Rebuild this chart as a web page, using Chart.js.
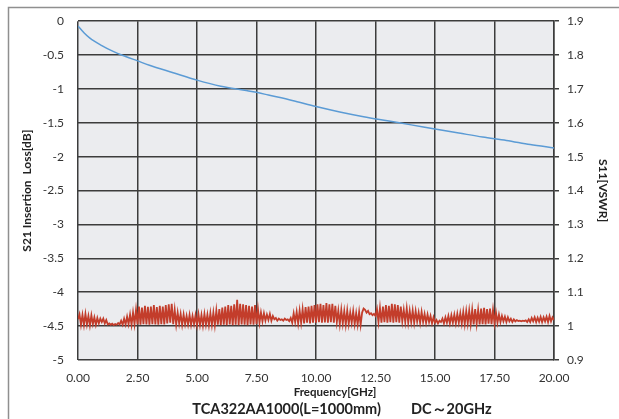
<!DOCTYPE html>
<html>
<head>
<meta charset="utf-8">
<script src="https://cdn.jsdelivr.net/npm/chart.js@4"></script>
<style>
  body { margin: 0; background: #fff; }
</style>
</head>
<body>
<canvas id="myChart" width="619" height="419"></canvas>
<script>
// S21 insertion loss [dB]
const lossFreq = [0, 0.25, 0.5, 1, 1.5, 2, 2.5, 3, 4, 5, 6, 7, 7.5, 8, 9, 10, 11, 12, 13, 14, 15, 16, 17, 18, 19, 20];
const lossDb = [-0.07, -0.17, -0.25, -0.36, -0.45, -0.52, -0.585, -0.65, -0.76, -0.87, -0.96, -1.02, -1.05, -1.09, -1.17, -1.26, -1.34, -1.41, -1.47, -1.53, -1.59, -1.65, -1.71, -1.76, -1.82, -1.87];

// S11 VSWR, one row per GHz, 16 samples per GHz (0.0625 GHz apart)
const vswrStep = 0.0625;
const vswr = [
  1.020, 1.035, 1.004, 1.033, 1.003, 1.036, 1.005, 1.030, 1.002, 1.032, 1.006, 1.026, 1.004, 1.024, 1.008, 1.022,
  1.012, 1.022, 1.008, 1.018, 1.005, 1.008, 1.004, 1.007, 1.003, 1.006, 1.004, 1.009, 1.005, 1.016, 1.004, 1.022,
  1.005, 1.028, 1.006, 1.034, 1.004, 1.040, 1.006, 1.048, 1.005, 1.058, 1.004, 1.055, 1.006, 1.060, 1.005, 1.057,
  1.004, 1.058, 1.006, 1.062, 1.005, 1.056, 1.004, 1.060, 1.006, 1.058, 1.005, 1.062, 1.008, 1.064, 1.010, 1.066,
  1.006, 1.048, 1.005, 1.040, 1.008, 1.036, 1.004, 1.034, 1.006, 1.030, 1.005, 1.033, 1.004, 1.030, 1.006, 1.032,
  1.003, 1.035, 1.004, 1.033, 1.002, 1.036, 1.005, 1.034, 1.003, 1.038, 1.004, 1.040, 1.003, 1.046, 1.004, 1.050,
  1.003, 1.055, 1.004, 1.058, 1.003, 1.062, 1.005, 1.060, 1.003, 1.064, 1.004, 1.078, 1.003, 1.066, 1.005, 1.064,
  1.004, 1.062, 1.003, 1.060, 1.005, 1.058, 1.004, 1.062, 1.006, 1.050, 1.010, 1.040, 1.014, 1.038, 1.016, 1.034,
  1.018, 1.036, 1.016, 1.030, 1.020, 1.024, 1.016, 1.022, 1.018, 1.020, 1.016, 1.022, 1.018, 1.020, 1.015, 1.024,
  1.010, 1.038, 1.012, 1.042, 1.008, 1.046, 1.010, 1.050, 1.008, 1.056, 1.010, 1.058, 1.008, 1.060, 1.010, 1.062,
  1.010, 1.064, 1.012, 1.066, 1.010, 1.062, 1.011, 1.068, 1.010, 1.064, 1.012, 1.066, 1.010, 1.060, 1.012, 1.046,
  1.006, 1.048, 1.008, 1.044, 1.005, 1.046, 1.007, 1.040, 1.010, 1.044, 1.006, 1.038, 1.005, 1.042, 1.004, 1.040,
  1.052, 1.048, 1.040, 1.045, 1.035, 1.038, 1.032, 1.036, 1.030, 1.050, 1.012, 1.054, 1.010, 1.058, 1.012, 1.062,
  1.010, 1.060, 1.012, 1.066, 1.010, 1.064, 1.012, 1.062, 1.010, 1.058, 1.014, 1.048, 1.012, 1.052, 1.010, 1.045,
  1.012, 1.046, 1.010, 1.044, 1.014, 1.040, 1.010, 1.042, 1.012, 1.036, 1.010, 1.034, 1.012, 1.030, 1.008, 1.026,
  1.010, 1.018, 1.008, 1.016, 1.012, 1.022, 1.008, 1.026, 1.010, 1.030, 1.008, 1.032, 1.010, 1.034, 1.008, 1.036,
  1.010, 1.038, 1.008, 1.042, 1.006, 1.044, 1.008, 1.046, 1.006, 1.048, 1.005, 1.050, 1.007, 1.048, 1.005, 1.052,
  1.006, 1.054, 1.005, 1.050, 1.007, 1.052, 1.006, 1.048, 1.008, 1.040, 1.010, 1.034, 1.012, 1.030, 1.014, 1.028,
  1.012, 1.026, 1.014, 1.022, 1.012, 1.020, 1.014, 1.018, 1.015, 1.016, 1.014, 1.016, 1.015, 1.017, 1.012, 1.020,
  1.012, 1.024, 1.014, 1.026, 1.012, 1.025, 1.013, 1.027, 1.012, 1.026, 1.014, 1.028, 1.012, 1.030, 1.014, 1.026,
  1.018
];

const xTitle = 'Frequency[GHz]';
const chartTitle = 'TCA322AA1000(L=1000mm)\u3000\u3000DC\uFF5E20GHz';
const FONT = 'Lato, "Open Sans", sans-serif';

// plain number labels like the original: 0, -0.5, -1 ... and 0.9, 1, 1.1 ...
const numLabel = v => String(Math.round(v * 10) / 10);

const frame = {
  id: 'frame',
  beforeDraw(chart) {
    const {ctx, chartArea} = chart;
    ctx.save();
    ctx.fillStyle = '#fff';
    ctx.fillRect(0, 0, chart.width, chart.height);
    ctx.strokeStyle = '#8f8f8f';
    ctx.lineWidth = 1.5;
    ctx.strokeRect(8.5, 7.5, 800, 600);
    ctx.fillStyle = '#ebecef';
    ctx.fillRect(chartArea.left, chartArea.top, chartArea.right - chartArea.left, chartArea.bottom - chartArea.top);
    ctx.restore();
  },
  afterDraw(chart) {
    const ctx = chart.ctx;
    ctx.save();
    ctx.fillStyle = '#222';
    ctx.textAlign = 'center';
    ctx.textBaseline = 'middle';
    ctx.font = 'bold 11.5px ' + FONT;
    ctx.fillText(xTitle, 335, 392);
    ctx.font = 'bold 14.5px ' + FONT;
    ctx.fillText(chartTitle, 342, 409);
    ctx.restore();
  }
};

const ctx = document.getElementById('myChart');
new Chart(ctx, {
  type: 'line',
  data: {
    datasets: [
      {
        label: 'S21',
        data: lossFreq.map((f, i) => ({x: f, y: lossDb[i]})),
        borderColor: '#5b9bd5',
        borderWidth: 1.5,
        pointRadius: 0,
        cubicInterpolationMode: 'monotone',
        yAxisID: 'y'
      },
      {
        label: 'S11',
        data: vswr.map((v, i) => ({x: i * vswrStep, y: v})),
        borderColor: '#c33d2b',
        borderWidth: 1.8,
        pointRadius: 0,
        tension: 0,
        yAxisID: 'y2'
      }
    ]
  },
  options: {
    responsive: false,
    animation: false,
    layout: {padding: {left: 8, top: 18, right: 0, bottom: 0}},
    plugins: {
      legend: {display: false},
      tooltip: {enabled: false}
    },
    scales: {
      x: {
        type: 'linear',
        min: 0,
        max: 20,
        afterFit: s => { s.height = 59; },
        ticks: {
          stepSize: 2.5,
          padding: 11,
          color: '#333',
          font: {family: FONT, size: 12},
          callback: v => v.toFixed(2)
        },
        grid: {color: '#3c3c3c', lineWidth: 1.5, drawTicks: false},
        border: {display: false}
      },
      y: {
        position: 'left',
        min: -5,
        max: 0,
        afterFit: s => { s.width = 70; },
        ticks: {
          stepSize: 0.5,
          padding: 14,
          color: '#333',
          font: {family: FONT, size: 12},
          callback: numLabel
        },
        grid: {color: '#3c3c3c', lineWidth: 1.5, drawTicks: false},
        border: {display: false},
        title: {
          display: true,
          text: 'S21 Insertion  Loss[dB]',
          color: '#222',
          font: {family: FONT, size: 12, weight: 'bold'},
          padding: {top: 12, bottom: 0}
        }
      },
      y2: {
        position: 'right',
        min: 0.9,
        max: 1.9,
        afterFit: s => { s.width = 65; },
        ticks: {
          stepSize: 0.1,
          padding: 8,
          color: '#333',
          font: {family: FONT, size: 12},
          callback: numLabel
        },
        grid: {drawOnChartArea: false, color: '#3c3c3c', lineWidth: 1.5, tickLength: 5},
        border: {display: true, color: '#3c3c3c', width: 1.5},
        title: {
          display: true,
          text: 'S11[VSWR]',
          color: '#222',
          font: {family: FONT, size: 12, weight: 'bold'},
          padding: {top: 9, bottom: 0}
        }
      }
    }
  },
  plugins: [frame]
});
</script>
</body>
</html>
